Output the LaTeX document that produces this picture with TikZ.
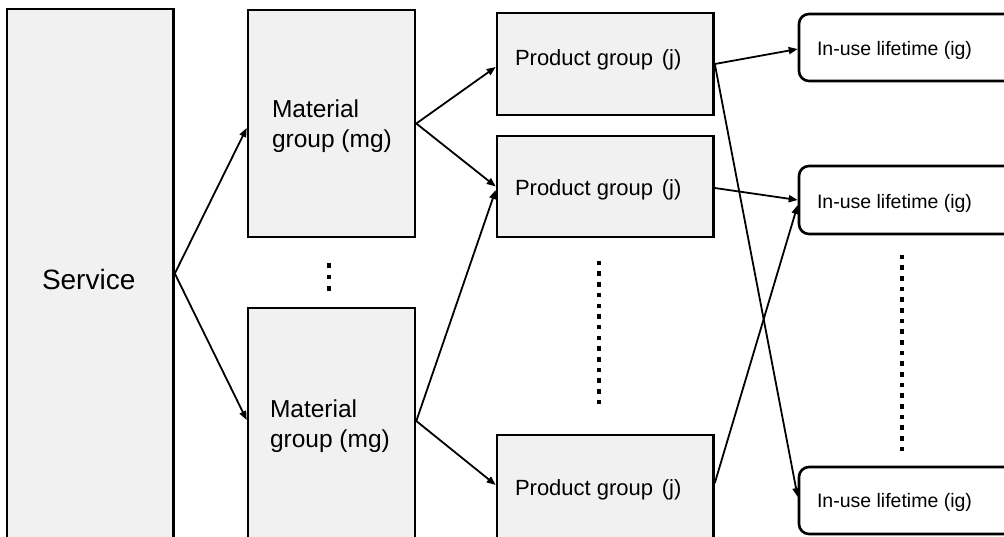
\documentclass[tikz,border=0pt]{standalone}
\usepackage{fontspec}
\setmainfont{Liberation Sans}
\usetikzlibrary{arrows.meta}
\definecolor{boxfill}{HTML}{F1F1F1}
\tikzset{
  box/.style={draw=black, line width=2.6pt, fill=boxfill, inner sep=0pt},
  lifebox/.style={draw=black, line width=2.6pt, fill=white, rounded corners=10pt, inner sep=0pt},
  link/.style={line width=1.8pt, -{Triangle[length=9pt,width=7pt]}},
  txt/.style={anchor=base west, inner sep=0pt, outer sep=0pt},
}
\newcommand{\dotcol}[4]{% x, first y, count, spacing
  \foreach \k in {1,...,#3}{
    \fill ({#1-2.25},{#2+(\k-1)*#4-2.25}) rectangle ++(4.5,4.5);
  }}
\begin{document}
\begin{tikzpicture}[x=1pt,y=-1pt]
  \clip (0,0) rectangle (1004,536);
  \fill[white] (0,0) rectangle (1004,536);

  % service box
  \node[box, minimum width=166.5pt, minimum height=529pt] (svc) at (90.25,273.5) {};
  % material groups
  \node[box, minimum width=167pt, minimum height=227pt] (m1) at (331.5,123.5) {};
  \node[box, minimum width=167pt, minimum height=252pt] (m2) at (331.5,434) {};
  % product groups
  \node[box, minimum width=216.5pt, minimum height=102pt] (pg1) at (605.25,64) {};
  \node[box, minimum width=216.5pt, minimum height=101pt] (pg2) at (605.25,186.5) {};
  \node[box, minimum width=216.5pt, minimum height=125pt] (pg3) at (605.25,497.5) {};
  % in-use lifetimes
  \node[lifebox, minimum width=216pt, minimum height=67pt] (iu1) at (907,47.5) {};
  \node[lifebox, minimum width=216pt, minimum height=68pt] (iu2) at (907,200) {};
  \node[lifebox, minimum width=216pt, minimum height=67pt] (iu3) at (907,500.5) {};

  % labels
  \node[txt, font=\fontsize{28}{32}\selectfont] (tsvc) at (42,289) {Service};
  \node[txt, font=\fontsize{24.5}{30}\selectfont] (tm1a) at (272,117) {Material};
  \node[txt, font=\fontsize{24.5}{30}\selectfont] (tm1b) at (272,147) {group (mg)};
  \node[txt, font=\fontsize{24.5}{30}\selectfont] (tm2a) at (270,417) {Material};
  \node[txt, font=\fontsize{24.5}{30}\selectfont] (tm2b) at (270,447) {group (mg)};
  \node[txt, font=\fontsize{22}{26}\selectfont] (tpg1) at (515,65) {Product group\hspace{2.5pt} (j)};
  \node[txt, font=\fontsize{22}{26}\selectfont] (tpg2) at (515,195) {Product group\hspace{2.5pt} (j)};
  \node[txt, font=\fontsize{22}{26}\selectfont] (tpg3) at (515,495) {Product group\hspace{2.5pt} (j)};
  \node[txt, font=\fontsize{19.5}{24}\selectfont] (tiu1) at (817,55) {In-use lifetime (ig)};
  \node[txt, font=\fontsize{19.5}{24}\selectfont] (tiu2) at (817,208) {In-use lifetime (ig)};
  \node[txt, font=\fontsize{19.5}{24}\selectfont] (tiu3) at (817,507) {In-use lifetime (ig)};

  % service to material groups
  \draw[link] (svc.east) -- ([yshift=-4.5pt]m1.west);
  \draw[link] (svc.east) -- ([yshift=14pt]m2.west);
  % material groups to product groups
  \draw[link] (m1.east) -- ([yshift=-3pt]pg1.west);
  \draw[link] (m1.east) -- (pg2.west);
  \draw[link] ([yshift=13pt]m2.east) -- ([yshift=-3.5pt]pg2.west);
  \draw[link] ([yshift=13pt]m2.east) -- ([yshift=12.5pt]pg3.west);
  % product groups to in-use lifetimes
  \draw[link] (pg1.east) -- ([yshift=-1.5pt]iu1.west);
  \draw[link] (pg1.east) -- ([yshift=3.5pt]iu3.west);
  \draw[link] ([yshift=-1.5pt]pg2.east) -- (iu2.west);
  \draw[link] ([yshift=14.5pt]pg3.east) -- ([yshift=-5pt]iu2.west);

  % ellipsis dots
  \dotcol{329}{265.5}{3}{11.5}
  \dotcol{599}{263}{14}{10.7}
  \dotcol{902}{257}{19}{10.67}
\end{tikzpicture}
\end{document}
